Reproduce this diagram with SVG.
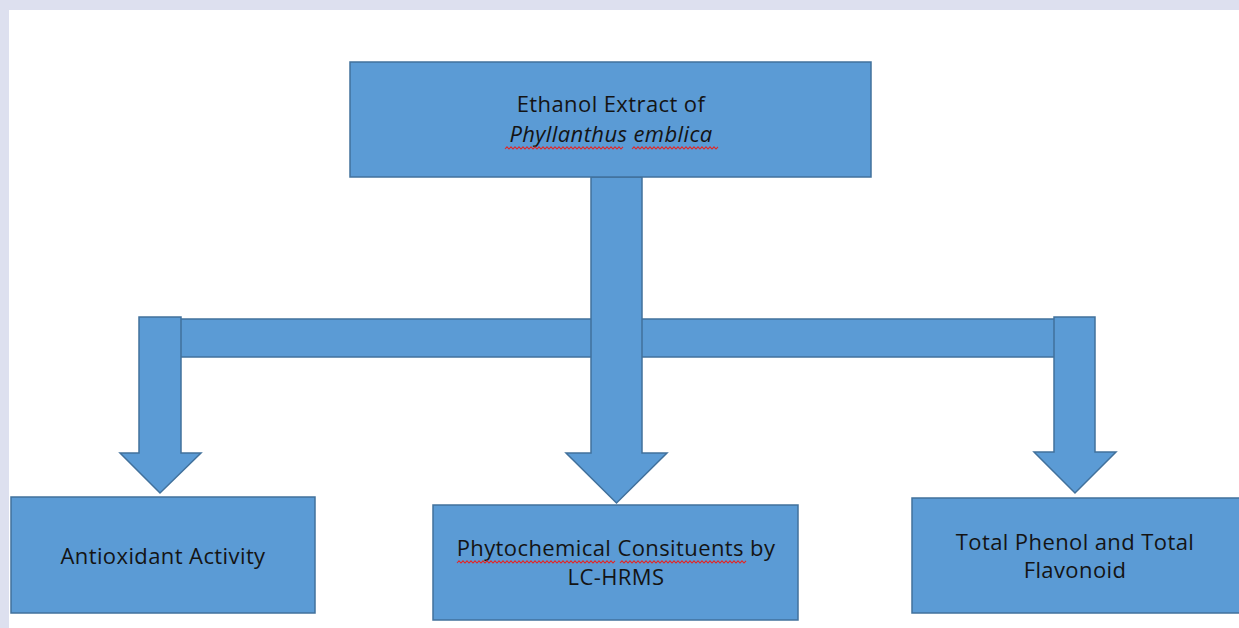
<svg xmlns="http://www.w3.org/2000/svg" width="1239" height="628" viewBox="0 0 1239 628">
  <style>
    .shape { fill: #5b9bd5; stroke: #41719c; stroke-width: 1.5; }
    .label { font-family: "Open Sans", "Liberation Sans", sans-serif; font-size: 22px; letter-spacing: 0.4px; fill: #141414; text-anchor: middle; }
    .squiggle { fill: none; stroke: #e02828; stroke-width: 1.1; }
  </style>
  <rect x="0" y="0" width="1239" height="628" fill="#dde0ef"/>
  <rect x="9" y="10" width="1230" height="618" fill="#ffffff"/>

  <g id="connectors">
    <rect class="shape" x="176" y="319" width="882" height="38"/>
    <polygon class="shape" points="139,317 181,317 181,453 201,453 160,493 120,453 139,453"/>
    <polygon class="shape" points="591,177 642,177 642,453 667,453 616.5,503 566,453 591,453"/>
    <polygon class="shape" points="1054,317 1095,317 1095,452 1116,452 1075,493 1034,452 1054,452"/>
  </g>

  <g id="node-extract">
    <rect class="shape" x="350" y="62" width="521" height="115"/>
    <text class="label" x="611" y="112">Ethanol Extract of</text>
    <text class="label" x="611" y="142" font-style="italic">Phyllanthus emblica</text>
    <path class="squiggle" d="M505,149 l2,-2.2 l2,2.2 l2,-2.2 l2,2.2 l2,-2.2 l2,2.2 l2,-2.2 l2,2.2 l2,-2.2 l2,2.2 l2,-2.2 l2,2.2 l2,-2.2 l2,2.2 l2,-2.2 l2,2.2 l2,-2.2 l2,2.2 l2,-2.2 l2,2.2 l2,-2.2 l2,2.2 l2,-2.2 l2,2.2 l2,-2.2 l2,2.2 l2,-2.2 l2,2.2 l2,-2.2 l2,2.2 l2,-2.2 l2,2.2 l2,-2.2 l2,2.2 l2,-2.2 l2,2.2 l2,-2.2 l2,2.2 l2,-2.2 l2,2.2 l2,-2.2 l2,2.2 l2,-2.2 l2,2.2 l2,-2.2 l2,2.2 l2,-2.2 l2,2.2 l2,-2.2 l2,2.2 l2,-2.2 l2,2.2 l2,-2.2 l2,2.2 l2,-2.2 l2,2.2 l2,-2.2 l2,2.2 l2,-2.2"/>
    <path class="squiggle" d="M632,149 l2,-2.2 l2,2.2 l2,-2.2 l2,2.2 l2,-2.2 l2,2.2 l2,-2.2 l2,2.2 l2,-2.2 l2,2.2 l2,-2.2 l2,2.2 l2,-2.2 l2,2.2 l2,-2.2 l2,2.2 l2,-2.2 l2,2.2 l2,-2.2 l2,2.2 l2,-2.2 l2,2.2 l2,-2.2 l2,2.2 l2,-2.2 l2,2.2 l2,-2.2 l2,2.2 l2,-2.2 l2,2.2 l2,-2.2 l2,2.2 l2,-2.2 l2,2.2 l2,-2.2 l2,2.2 l2,-2.2 l2,2.2 l2,-2.2 l2,2.2 l2,-2.2 l2,2.2 l2,-2.2"/>
  </g>

  <g id="node-antioxidant">
    <rect class="shape" x="11" y="497" width="304" height="116"/>
    <text class="label" x="163" y="564">Antioxidant Activity</text>
  </g>

  <g id="node-phytochemical">
    <rect class="shape" x="433" y="505" width="365" height="115"/>
    <text class="label" x="616" y="556">Phytochemical Consituents by</text>
    <text class="label" x="616" y="585">LC-HRMS</text>
    <path class="squiggle" d="M457,563 l2,-2.2 l2,2.2 l2,-2.2 l2,2.2 l2,-2.2 l2,2.2 l2,-2.2 l2,2.2 l2,-2.2 l2,2.2 l2,-2.2 l2,2.2 l2,-2.2 l2,2.2 l2,-2.2 l2,2.2 l2,-2.2 l2,2.2 l2,-2.2 l2,2.2 l2,-2.2 l2,2.2 l2,-2.2 l2,2.2 l2,-2.2 l2,2.2 l2,-2.2 l2,2.2 l2,-2.2 l2,2.2 l2,-2.2 l2,2.2 l2,-2.2 l2,2.2 l2,-2.2 l2,2.2 l2,-2.2 l2,2.2 l2,-2.2 l2,2.2 l2,-2.2 l2,2.2 l2,-2.2 l2,2.2 l2,-2.2 l2,2.2 l2,-2.2 l2,2.2 l2,-2.2 l2,2.2 l2,-2.2 l2,2.2 l2,-2.2 l2,2.2 l2,-2.2 l2,2.2 l2,-2.2 l2,2.2 l2,-2.2 l2,2.2 l2,-2.2 l2,2.2 l2,-2.2 l2,2.2 l2,-2.2 l2,2.2 l2,-2.2 l2,2.2 l2,-2.2 l2,2.2 l2,-2.2 l2,2.2 l2,-2.2 l2,2.2 l2,-2.2 l2,2.2 l2,-2.2 l2,2.2 l2,-2.2"/>
    <path class="squiggle" d="M620,563 l2,-2.2 l2,2.2 l2,-2.2 l2,2.2 l2,-2.2 l2,2.2 l2,-2.2 l2,2.2 l2,-2.2 l2,2.2 l2,-2.2 l2,2.2 l2,-2.2 l2,2.2 l2,-2.2 l2,2.2 l2,-2.2 l2,2.2 l2,-2.2 l2,2.2 l2,-2.2 l2,2.2 l2,-2.2 l2,2.2 l2,-2.2 l2,2.2 l2,-2.2 l2,2.2 l2,-2.2 l2,2.2 l2,-2.2 l2,2.2 l2,-2.2 l2,2.2 l2,-2.2 l2,2.2 l2,-2.2 l2,2.2 l2,-2.2 l2,2.2 l2,-2.2 l2,2.2 l2,-2.2 l2,2.2 l2,-2.2 l2,2.2 l2,-2.2 l2,2.2 l2,-2.2 l2,2.2 l2,-2.2 l2,2.2 l2,-2.2 l2,2.2 l2,-2.2 l2,2.2 l2,-2.2 l2,2.2 l2,-2.2 l2,2.2 l2,-2.2 l2,2.2 l2,-2.2"/>
  </g>

  <g id="node-phenol">
    <rect class="shape" x="912" y="498" width="330" height="115"/>
    <text class="label" x="1075" y="550">Total Phenol and Total</text>
    <text class="label" x="1075" y="578">Flavonoid</text>
  </g>
</svg>
